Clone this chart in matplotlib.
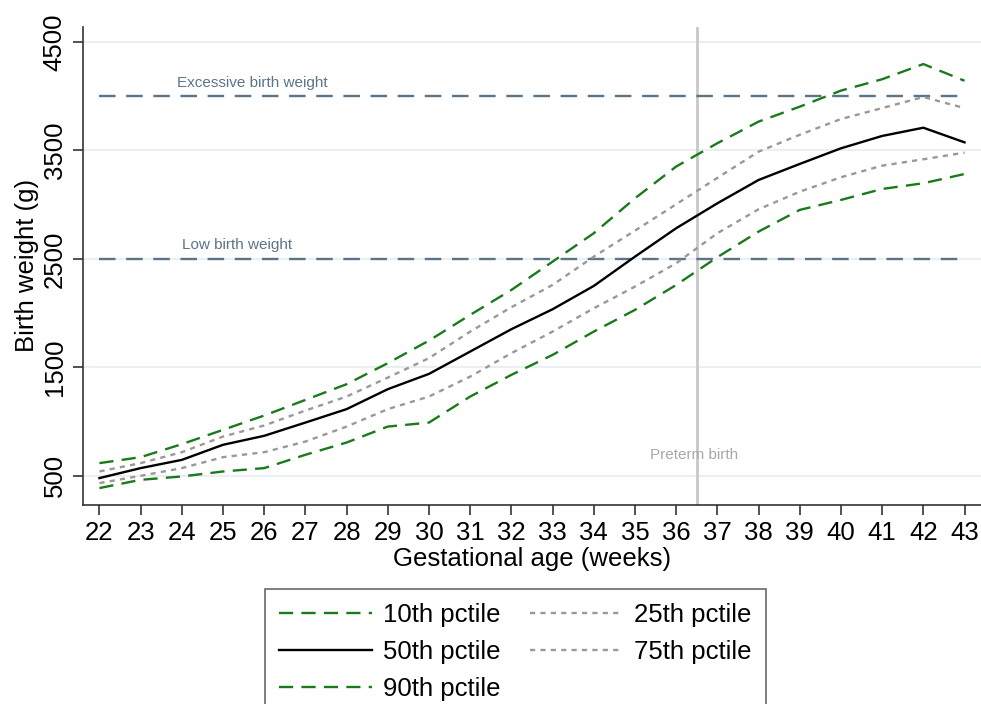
import matplotlib
matplotlib.use('Agg')
import matplotlib.pyplot as plt

plt.rcParams['font.family'] = ['Liberation Sans', 'DejaVu Sans']

# gestational age (weeks)
weeks = list(range(22, 44))

# birth weight percentiles (g)
p10 = [387, 463, 494, 540, 571, 694, 807, 954, 991, 1231, 1431, 1615,
       1830, 2030, 2260, 2516, 2752, 2952, 3044, 3145, 3198, 3283]
p25 = [433, 500, 571, 672, 718, 816, 954, 1115, 1231, 1415, 1631, 1830,
       2045, 2245, 2460, 2737, 2958, 3120, 3253, 3360, 3419, 3480]
p50 = [479, 571, 647, 786, 869, 991, 1115, 1299, 1440, 1646, 1852, 2036,
       2251, 2521, 2783, 3013, 3228, 3376, 3520, 3634, 3710, 3575]
p75 = [540, 617, 718, 862, 964, 1102, 1231, 1406, 1585, 1830, 2055, 2260,
       2521, 2761, 3004, 3247, 3489, 3645, 3790, 3891, 3993, 3891]
p90 = [617, 672, 792, 924, 1056, 1200, 1345, 1539, 1747, 1984, 2214, 2475,
       2737, 3059, 3352, 3567, 3766, 3904, 4052, 4157, 4297, 4143]

y_ticks = [500, 1500, 2500, 3500, 4500]
low_bw = 2500
excessive_bw = 4000
preterm = 36.5

fig = plt.figure(figsize=(9.81, 7.04), dpi=100)
ax = fig.add_axes([0.085, 0.283, 0.915, 0.679])

green = '#1a7a1a'
gray = '#999999'
ref_col = '#5b7488'
fs = 18.5

# reference lines
for yv in y_ticks:
    ax.axhline(yv, color='#e8f0f2', lw=1.5, zorder=0)
ax.axvline(preterm, color='#c8c8c8', lw=2, zorder=1)
for yv in (low_bw, excessive_bw):
    ax.plot([22, 43], [yv, yv], color=ref_col, lw=1.7, dashes=(7, 4.5), zorder=2)

ax.text(25.71, 4060, 'Excessive birth weight', color=ref_col, fontsize=11,
        ha='center', va='bottom')
ax.text(25.34, 2560, 'Low birth weight', color=ref_col, fontsize=11,
        ha='center', va='bottom')
ax.text(36.44, 693, 'Preterm birth', color='#a8a8a8', fontsize=11,
        ha='center', va='center')

# percentile curves
ax.plot(weeks, p10, color=green, lw=1.7, dashes=(6, 3.5), label='10th pctile', zorder=3)
ax.plot(weeks, p50, color='black', lw=1.7, label='50th pctile', zorder=3)
ax.plot(weeks, p90, color=green, lw=1.7, dashes=(6, 3.5), label='90th pctile', zorder=3)
ax.plot(weeks, p25, color=gray, lw=1.7, dashes=(2.2, 2.2), label='25th pctile', zorder=3)
ax.plot(weeks, p75, color=gray, lw=1.7, dashes=(2.2, 2.2), label='75th pctile', zorder=3)

ax.set_xlim(21.61, 43.4)
ax.set_ylim(233, 4641)
ax.set_xticks(weeks)
ax.set_yticks(y_ticks)
ax.tick_params(axis='both', labelsize=fs, length=7, width=1.2,
               color='#333333', pad=5)
for lab in ax.get_yticklabels():
    lab.set_rotation(90)
    lab.set_va('center')

ax.set_xlabel('Gestational age (weeks)', fontsize=fs, labelpad=1)
ax.set_ylabel('Birth weight (g)', fontsize=fs, labelpad=3)

for side in ('top', 'right'):
    ax.spines[side].set_visible(False)
for side in ('left', 'bottom'):
    ax.spines[side].set_color('#333333')
    ax.spines[side].set_linewidth(1.2)

leg = fig.legend(loc='upper left', bbox_to_anchor=(0.270, 0.163),
                 ncol=2, fontsize=fs, frameon=True, fancybox=False,
                 handlelength=3.6, handletextpad=0.45, columnspacing=1.15,
                 labelspacing=0.5, borderpad=0.55, borderaxespad=0)
leg.get_frame().set_edgecolor('#444444')
leg.get_frame().set_linewidth(1.2)

fig.savefig('out.png', dpi=100)
